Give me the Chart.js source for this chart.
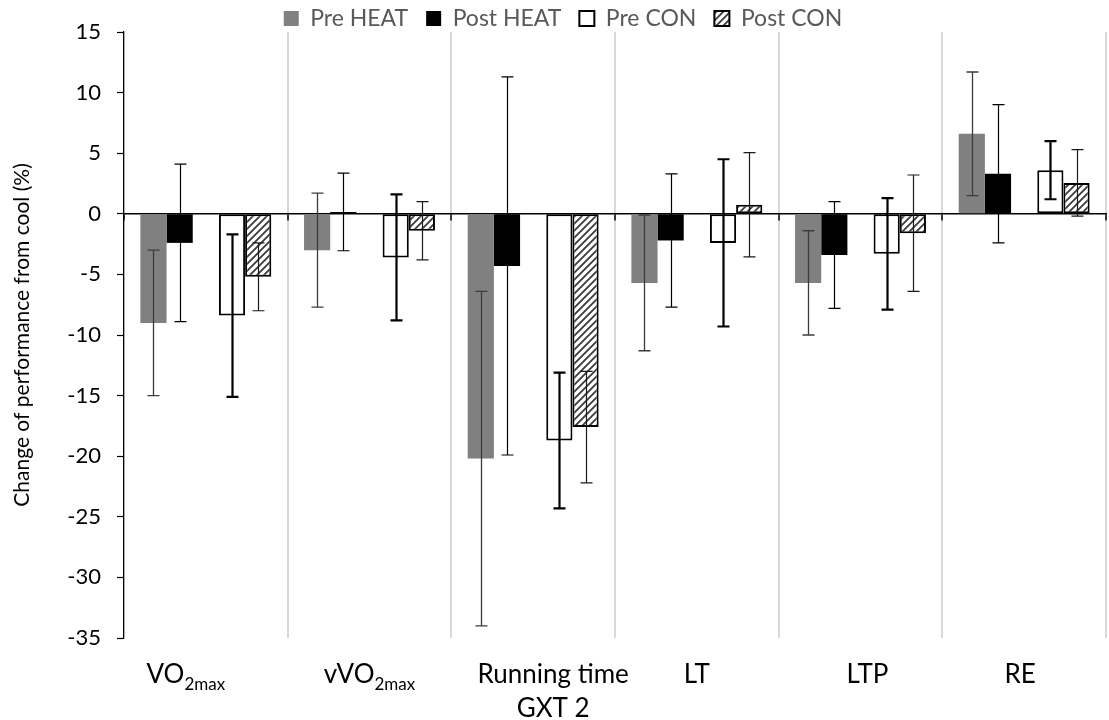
<!DOCTYPE html>
<html>
<head>
<meta charset="utf-8">
<script src="https://cdn.jsdelivr.net/npm/chart.js@4/dist/chart.umd.min.js"></script>
<style>
  html, body { margin: 0; padding: 0; background: #fff; }
  #wrap { width: 1109px; height: 720px; }
</style>
</head>
<body>
<div id="wrap"><canvas id="perf-chart"></canvas></div>
<script>
// categories and the way their labels are written (with subscripts)
const categories = ['VO2max', 'vVO2max', 'Running time GXT 2', 'LT', 'LTP', 'RE'];
const labelMain = ['VO', 'vVO', 'Running time', 'LT', 'LTP', 'RE'];
const labelSub = ['2max', '2max', '', '', '', ''];
const labelLine2 = ['', '', 'GXT 2', '', '', ''];

// means and SDs (% change from cool)
const preHeat = [-9.0, -3.0, -20.2, -5.7, -5.7, 6.6];
const preHeatSD = [6.0, 4.7, 13.8, 5.6, 4.3, 5.1];
const postHeat = [-2.4, 0.15, -4.3, -2.2, -3.4, 3.3];
const postHeatSD = [6.5, 3.2, 15.6, 5.5, 4.4, 5.7];
const preCon = [-8.4, -3.6, -18.7, -2.4, -3.3, 3.6];
const preConSD = [6.7, 5.2, 5.6, 6.9, 4.6, 2.4];
const postCon = [-5.2, -1.4, -17.6, 0.75, -1.6, 2.55];
const postConSD = [2.8, 2.4, 4.6, 4.3, 4.8, 2.75];

const yMin = -35, yMax = 15, yStep = 5;

const FONT = 'Lato';

// diagonal hatch for Post CON
function makeHatch() {
	const c = document.createElement('canvas');
	c.width = 7; c.height = 7;
	const g = c.getContext('2d');
	g.fillStyle = '#ffffff';
	g.fillRect(0, 0, 7, 7);
	g.strokeStyle = '#3a3a3a';
	g.lineWidth = 1.8;
	g.beginPath();
	g.moveTo(-1, 8); g.lineTo(8, -1);
	g.moveTo(-1, 1); g.lineTo(1, -1);
	g.moveTo(6, 8); g.lineTo(8, 6);
	g.stroke();
	return g.createPattern(c, 'repeat');
}
const hatch = makeHatch();

// error bars drawn from the bar elements and the y scale
const errorBars = {
	id: 'errorBars',
	afterDatasetsDraw(chart) {
		const ctx = chart.ctx;
		const y = chart.scales.y;
		chart.data.datasets.forEach((ds, d) => {
			if (!ds.sd) return;
			const meta = chart.getDatasetMeta(d);
			ctx.save();
			ctx.strokeStyle = ds.errColor;
			ctx.lineWidth = ds.errWidth;
			meta.data.forEach((bar, i) => {
				const v = ds.data[i];
				if (v === null) return;
				const top = y.getPixelForValue(v + ds.sd[i]);
				const bot = y.getPixelForValue(v - ds.sd[i]);
				const x = Math.round(bar.x) + 0.5;
				ctx.beginPath();
				ctx.moveTo(x, top); ctx.lineTo(x, bot);
				ctx.moveTo(x - 6, top); ctx.lineTo(x + 6, top);
				ctx.moveTo(x - 6, bot); ctx.lineTo(x + 6, bot);
				ctx.stroke();
			});
			ctx.restore();
		});
	}
};

// category labels with subscripts, under the plot
const labelShift = [-20, 0, 20, 0, 7, -4];
const xLabels = {
	id: 'xLabels',
	afterDraw(chart) {
		const ctx = chart.ctx;
		const xs = chart.scales.x;
		const base = chart.chartArea.bottom + 45;
		ctx.save();
		ctx.fillStyle = '#000';
		ctx.textBaseline = 'alphabetic';
		ctx.textAlign = 'left';
		categories.forEach((c, i) => {
			const cx = xs.getPixelForValue(i) + labelShift[i];
			ctx.font = '26px ' + FONT;
			const w1 = ctx.measureText(labelMain[i]).width;
			ctx.font = '17px ' + FONT;
			const w2 = labelSub[i] ? ctx.measureText(labelSub[i]).width : 0;
			const x0 = cx - (w1 + w2) / 2;
			ctx.font = '26px ' + FONT;
			ctx.fillText(labelMain[i], x0, base);
			if (labelSub[i]) {
				ctx.font = '17px ' + FONT;
				ctx.fillText(labelSub[i], x0 + w1, base + 7);
			}
			if (labelLine2[i]) {
				ctx.font = '26px ' + FONT;
				ctx.textAlign = 'center';
				ctx.fillText(labelLine2[i], cx, base + 34);
				ctx.textAlign = 'left';
			}
		});
		ctx.restore();
	}
};

const data = {
	labels: categories,
	datasets: [
		{ label: 'Pre HEAT', data: preHeat, sd: preHeatSD, backgroundColor: '#808080', borderWidth: 0,
		  errColor: '#3c3c3c', errWidth: 1.3 },
		{ label: 'Post HEAT', data: postHeat, sd: postHeatSD, backgroundColor: '#000000', borderWidth: 0,
		  errColor: '#000000', errWidth: 1.2 },
		{ label: '', data: categories.map(() => null), backgroundColor: 'rgba(0,0,0,0)', borderWidth: 0 },
		{ label: 'Pre CON', data: preCon, sd: preConSD, backgroundColor: '#ffffff', borderColor: '#000000',
		  borderWidth: 2, borderSkipped: false, errColor: '#000000', errWidth: 2.2 },
		{ label: 'Post CON', data: postCon, sd: postConSD, backgroundColor: hatch, borderColor: '#000000',
		  borderWidth: 2, borderSkipped: false, errColor: '#1a1a1a', errWidth: 1.2 }
	]
};

new Chart(document.getElementById('perf-chart'), {
	type: 'bar',
	data: data,
	plugins: [errorBars, xLabels],
	options: {
		responsive: true,
		maintainAspectRatio: false,
		animation: false,
		layout: { padding: { top: -11, right: 3, bottom: 82, left: 20 } },
		datasets: { bar: { categoryPercentage: 0.8, barPercentage: 1.0 } },
		plugins: {
			tooltip: { enabled: false },
			legend: {
				position: 'top',
				maxHeight: 43,
				labels: {
					filter: (item) => item.text !== '',
					color: '#595959',
					font: { family: FONT, size: 23 },
					boxWidth: 15,
					boxHeight: 15,
					padding: 18
				}
			}
		},
		scales: {
			x: {
				position: { y: 0 },
				grid: { offset: true, color: '#d9d9d9', lineWidth: 2, tickColor: '#000', tickLength: 6, tickWidth: 1.5 },
				border: { color: '#000', width: 1.5 },
				ticks: { display: false }
			},
			y: {
				min: yMin,
				max: yMax,
				afterFit: (s) => { s.width = 104; },
				ticks: { stepSize: yStep, color: '#000', padding: 16, font: { family: FONT, size: 22 } },
				grid: { drawOnChartArea: false, tickColor: '#000', tickLength: 7, tickWidth: 1.2 },
				border: { color: '#000', width: 1.2 },
				title: {
					display: true,
					text: 'Change of performance from cool (%)',
					color: '#000',
					font: { family: FONT, size: 21 },
					padding: { top: -10, bottom: 0 }
				}
			}
		}
	}
});
</script>
</body>
</html>
